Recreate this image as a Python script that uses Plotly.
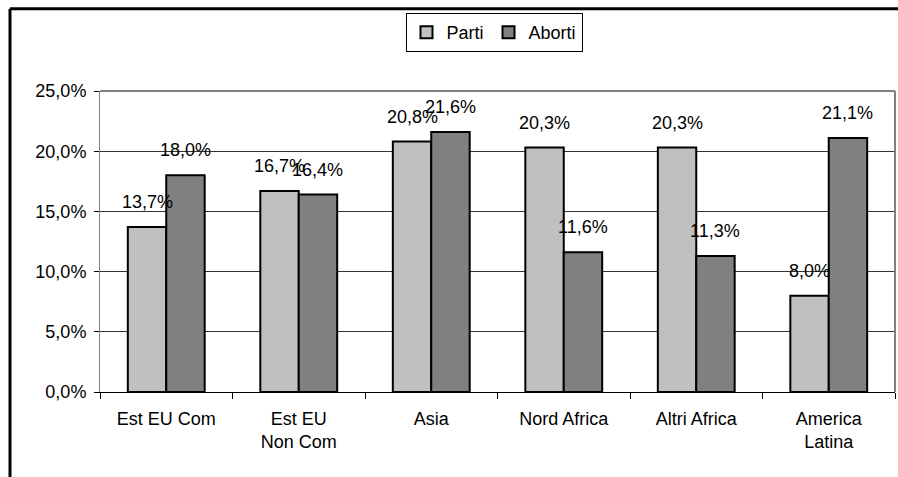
import plotly.graph_objects as go

categories = ["Est EU Com", "Est EU<br>Non Com", "Asia", "Nord Africa", "Altri Africa", "America<br>Latina"]
parti = [0.137, 0.167, 0.208, 0.203, 0.203, 0.080]
aborti = [0.180, 0.164, 0.216, 0.116, 0.113, 0.211]
series = [("Parti", parti, "#C0C0C0"), ("Aborti", aborti, "#808080")]

FONT = dict(family="Liberation Sans, Arial, sans-serif", size=18, color="black")

fig = go.Figure()
for name, vals, col in series:
    fig.add_trace(go.Bar(
        x=categories, y=vals, name=name,
        marker=dict(color=col, line=dict(color="black", width=2)),
    ))

# Etiketler Excel'deki gibi çubuğun biraz üstünde (annotation ile yerleştirildi)
for i, (name, vals, col) in enumerate(series):
    shift = -19 if i == 0 else 19
    for cat, v in zip(categories, vals):
        fig.add_annotation(
            x=cat, y=v, xshift=shift, yshift=13, yanchor="bottom",
            text=f"{v * 100:.1f}%".replace(".", ","), showarrow=False,
            font=FONT,
        )

# dış çerçeve (sol ve üst kenar görünür)
fig.add_shape(type="line", xref="paper", yref="paper", x0=-0.1132, x1=1.02, y0=1.2735, y1=1.2735,
              line=dict(color="black", width=3))
fig.add_shape(type="line", xref="paper", yref="paper", x0=-0.1132, x1=-0.1132, y0=-0.35, y1=1.2735,
              line=dict(color="black", width=3))

fig.update_layout(
    width=898, height=477,
    margin=dict(l=100, r=3, t=91, b=85),
    paper_bgcolor="white", plot_bgcolor="white",
    font=FONT,
    separators=",.",
    barmode="group", bargap=0.42, bargroupgap=0,
    showlegend=True,
    legend=dict(orientation="h", x=0.4956, xanchor="center", y=1.259, yanchor="top",
                bordercolor="black", borderwidth=1, font=FONT,
                itemwidth=30, tracegroupgap=0),
    xaxis=dict(showline=True, linecolor="black", linewidth=1, mirror=False,
               ticks="outside", tickson="boundaries", ticklen=6, tickcolor="black",
               ticklabelstandoff=10, showgrid=False, automargin=False),
    yaxis=dict(range=[0, 0.25], dtick=0.05, tickformat=".1%",
               showgrid=True, gridcolor="#333333", gridwidth=1,
               showline=True, linecolor="#808080", linewidth=1,
               ticks="outside", ticklen=5, tickcolor="black", ticklabelstandoff=4,
               zeroline=False, automargin=False),
)
# bordo grigio del riquadro
fig.add_shape(type="line", xref="paper", yref="paper", x0=0, x1=1, y0=1, y1=1,
              line=dict(color="#808080", width=2))
fig.add_shape(type="line", xref="paper", yref="paper", x0=1, x1=1, y0=0, y1=1,
              line=dict(color="#808080", width=2))

# sayfanın varsayılan 8px gövde boşluğunu kaldır
fig.write_html("out.html", config={"displayModeBar": False},
               post_script="document.body.style.margin='0';document.body.style.overflow='hidden';")
